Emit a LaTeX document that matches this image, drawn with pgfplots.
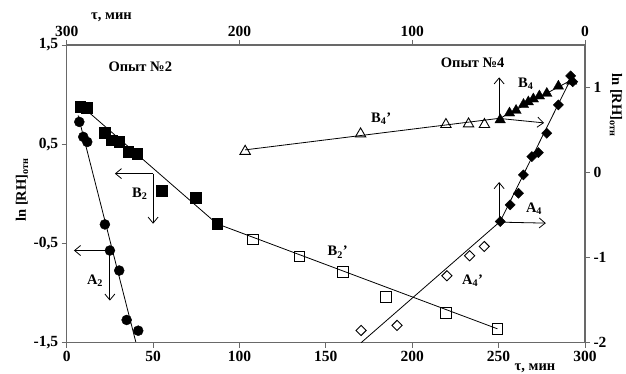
\documentclass[border=0pt]{standalone}
\usepackage{fontspec}
\setmainfont{Liberation Serif}
\usepackage{pgfplots}
\pgfplotsset{compat=1.18}
\usetikzlibrary{arrows.meta}
\definecolor{framegray}{RGB}{105,105,105}

\pgfplotsset{
  common/.style={
    at={(66.7pt,31.3pt)}, anchor=south west, scale only axis,
    width=518.3pt, height=297.7pt,
    tick align=outside, major tick length=5pt,
    axis line style={framegray, line width=1.3pt},
    tick style={framegray, line width=0.9pt},
    ticklabel style={font=\fontsize{15.5}{17}\selectfont\bfseries},
    /pgf/number format/assume math mode=true,
    /pgf/number format/use comma,
    clip=false,
  },
  lin/.style={black, line width=0.8pt, no marks},
}
\tikzset{arr/.style={-{Straight Barb[length=6pt,width=10pt]}, black, line width=0.8pt},
  lbl/.style={font=\fontsize{14.5}{16}\selectfont\bfseries, inner sep=0pt}}

\begin{document}
\begin{tikzpicture}[x=1pt,y=1pt]
\useasboundingbox (0,0) rectangle (626,374);
% Experiment 2: bottom / left axes
\begin{axis}[common,
  xmin=0, xmax=300, ymin=-1.5, ymax=1.5,
  xtick={0,50,...,300}, ytick={-1.5,-0.5,0.5,1.5},
  xtick pos=left, ytick pos=left,
  yticklabel style={/pgf/number format/.cd, fixed, fixed zerofill, precision=1, use comma},
]
% trend lines
\addplot[lin] coordinates {(6.6,0.79) (40.1,-1.5)};
\addplot[lin] coordinates {(10,0.864) (86.9,-0.301)};
\addplot[lin] coordinates {(86.9,-0.301) (249.3,-1.36)};
% A2 circles
\addplot[only marks, mark=*, mark size=5pt, black] coordinates {
(7.3,0.725) (9.6,0.574) (11.9,0.523) (22.1,-0.308) (25.0,-0.571)
(30.4,-0.773) (34.7,-1.271) (41.4,-1.379)};
% B2 filled squares
\addplot[only marks, mark=square*, mark size=5.3pt, black] coordinates {
(7.7,0.877) (11.6,0.871) (22.1,0.614) (26.0,0.540) (30.4,0.523)
(35.6,0.422) (40.8,0.406) (54.9,0.029) (74.7,-0.038) (87.0,-0.301)};
% B2' open squares
\addplot[only marks, mark=square, mark size=5.3pt, black, mark options={fill=white, line width=0.9pt}] coordinates {
(107.8,-0.46) (134.8,-0.631) (159.8,-0.79) (184.9,-1.042) (219.5,-1.20) (249.3,-1.362)};
% arrows
\draw[arr] (axis cs:50,0.204) -- (axis cs:27.9,0.204);
\draw[arr] (axis cs:50,0.204) -- (axis cs:50,-0.301);
\draw[arr] (axis cs:25,-0.571) -- (axis cs:4.2,-0.571);
\draw[arr] (axis cs:25,-0.571) -- (axis cs:25,-1.076);
\draw[arr] (axis cs:250.3,0.760) -- (axis cs:250.3,1.174);
\draw[arr] (axis cs:250.3,0.760) -- (axis cs:276.3,0.715);
\draw[arr] (axis cs:250.3,-0.285) -- (axis cs:250.3,0.119);
\draw[arr] (axis cs:250.3,-0.285) -- (axis cs:277.3,-0.295);
% labels
\node[lbl] at (axis cs:42.6,1.28) {Опыт №2};
\node[lbl] at (axis cs:235,1.32) {Опыт №4};
\node[lbl] at (axis cs:265.7,1.113) {B\textsubscript{4}};
\node[lbl] at (axis cs:182,0.76) {B\textsubscript{4}'};
\node[lbl] at (axis cs:42.3,0.002) {B\textsubscript{2}};
\node[lbl] at (axis cs:16.4,-0.874) {A\textsubscript{2}};
\node[lbl] at (axis cs:156.9,-0.588) {B\textsubscript{2}'};
\node[lbl] at (axis cs:234.9,-0.874) {A\textsubscript{4}'};
\node[lbl] at (axis cs:270.5,-0.15) {A\textsubscript{4}};
\end{axis}
% Experiment 4: top / right axes
\begin{axis}[common,
  xmin=0, xmax=300, ymin=-2, ymax=1.5, x dir=reverse,
  xtick={0,100,200,300}, ytick={-2,-1,0,1},
  xtick pos=right, ytick pos=right,
]
\addplot[lin] coordinates {(129.6,-2) (49.1,-0.575)};
\addplot[lin] coordinates {(49.1,-0.575) (7.5,1.13)};
\addplot[lin] coordinates {(49.1,0.639) (7.7,1.09)};
\addplot[lin] coordinates {(196.7,0.267) (49.1,0.639)};
% A4' open diamonds
\addplot[only marks, mark=square, mark size=3.6pt, black, mark options={rotate=45, fill=white, line width=0.9pt}] coordinates {
(129.6,-1.856) (108.8,-1.797) (79.9,-1.213) (66.8,-0.978) (58.3,-0.869)};
% A4 filled diamonds
\addplot[only marks, mark=square*, mark size=3.6pt, black, mark options={rotate=45}] coordinates {
(49.1,-0.575) (43.3,-0.379) (38.5,-0.242) (35.6,-0.027) (30.8,0.188)
(27.0,0.235) (22.1,0.463) (15.4,0.795) (8.3,1.136) (7.1,1.069)};
% B4 filled triangles
\addplot[only marks, mark=triangle*, mark size=6pt, black] coordinates {
(49.1,0.62) (43.7,0.70) (39.9,0.73) (35.6,0.80) (32.8,0.83)
(29.9,0.865) (26.4,0.90) (22.1,0.93) (15.4,1.015) (7.7,1.075)};
% B4' open triangles
\addplot[only marks, mark=triangle, mark size=6pt, black, mark options={fill=white, line width=0.9pt}] coordinates {
(196.7,0.25) (129.9,0.455) (80.5,0.565) (67.4,0.572) (58.2,0.565)};
\end{axis}
% axis titles
\node[lbl] at (111.5,357) {τ, мин};
\node[lbl, anchor=south] at (535,1) {τ, мин};
\node[lbl, rotate=90] at (22,184) {ln [RH]\textsubscript{отн}};
\node[lbl, rotate=-90] at (616,269) {ln [RH]\textsubscript{отн}};
\end{tikzpicture}
\end{document}
